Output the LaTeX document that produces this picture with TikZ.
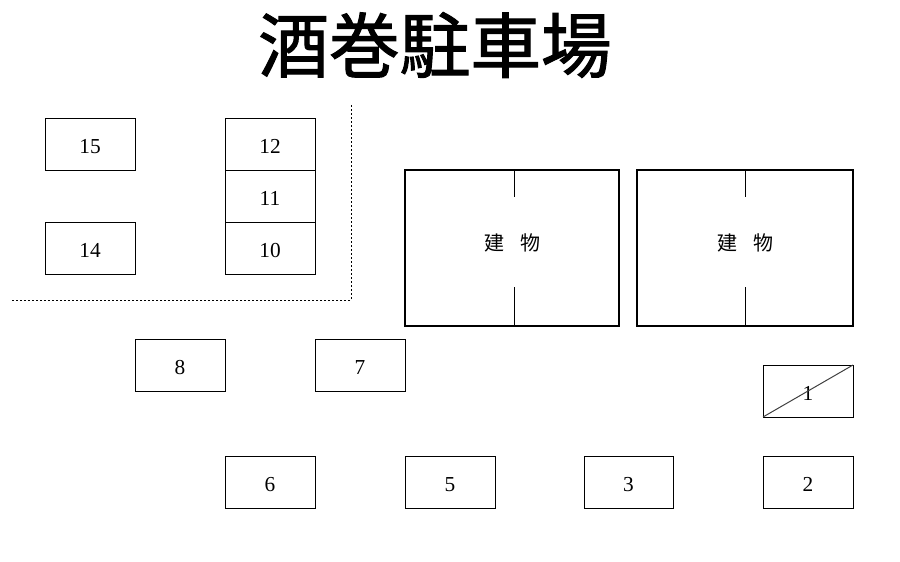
\documentclass[tikz,border=0pt]{standalone}
\usepackage{fontspec}
\setmainfont{Liberation Serif}
\newfontfamily\cjk{Noto Sans CJK JP}
\newfontfamily\cjktitle[FakeBold=1.5]{Noto Sans CJK JP}
\def\stallWidth{67.5pt}
\def\stallHeight{39pt}
\def\buildWidth{160.5pt}
\def\buildHeight{117pt}
\def\buildFont{\cjk\fontsize{15}{15}\selectfont\spaceskip 12pt\relax}
\tikzset{
    stall/.style = {draw, line width = 0.75pt, inner sep = 0pt, outer sep = 0pt,
        minimum width = \stallWidth, minimum height = \stallHeight,
        text height = 13.5pt, text depth = 0pt, font = \fontsize{16}{16}\selectfont},
    building/.style = {draw, line width = 1.9pt, inner sep = 0pt, outer sep = 0pt,
        minimum height = \buildHeight, text height = 12pt, text depth = 8.1pt,
        font = \buildFont},
}
\begin{document}
\begin{tikzpicture}[x = 0.75pt, y = -0.75pt]
            \useasboundingbox (0,0) rectangle (900,561);
            %% title
            \node (title) at (435,45) {\cjktitle\fontsize{53}{53}\selectfont 酒巻駐車場};
            %% upper left block
            \node [stall] (stall15) at (90,144) {15};
            \node [stall] (stall14) at (90,248) {14};
            \node [stall] (stall12) at (270,144) {12};
            \node [stall] (stall11) at (270,196) {11};
            \node [stall] (stall10) at (270,248) {10};
            %% ...boundary
            \draw [line width = 0.75pt, dash pattern = on 1.5pt off 1.5pt]
            (351,105) -- (351,300) -- (11,300)
            ;
            %% buildings
            \node [building, minimum width = \buildWidth] (buildA) at (512,248) {建 物};
            \node [building, minimum width = 162pt] (buildB) at (745,248) {建 物};
            \draw [line width = 0.75pt]
            (buildA.north) ++(2,0) -- ++(0,27)
            ;
            \draw [line width = 0.75pt]
            (buildA.south) ++(2,0) -- ++(0,-39)
            ;
            \draw [line width = 0.75pt]
            (buildB.north) -- ++(0,27)
            ;
            \draw [line width = 0.75pt]
            (buildB.south) -- ++(0,-39)
            ;
            %% middle row
            \node [stall] (stall8) at (180,365) {8};
            \node [stall] (stall7) at (360,365) {7};
            \node [stall] (stall1) at (808,391) {1};
            \draw [line width = 0.75pt, black!75]
            (stall1.south west) -- (stall1.north east)
            ;
            %% bottom row
            \node [stall] (stall6) at (270,482) {6};
            \node [stall] (stall5) at (450,482) {5};
            \node [stall, minimum width = 66.75pt] (stall3) at (628.5,482) {3};
            \node [stall] (stall2) at (808,482) {2};
        \end{tikzpicture}
\end{document}
